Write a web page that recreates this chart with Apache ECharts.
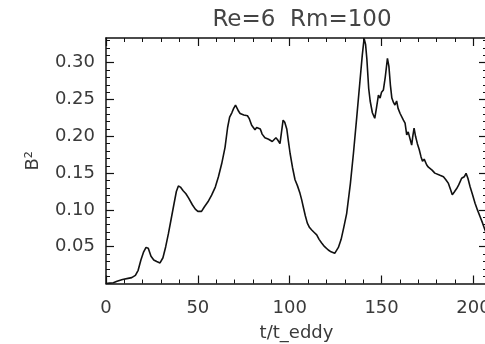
<!DOCTYPE html>
<html>
<head>
<meta charset="utf-8">
<script src="https://cdn.jsdelivr.net/npm/echarts@6/dist/echarts.min.js"></script>
<style>html,body{margin:0;padding:0;background:#fff;}#c{width:485px;height:344px;}</style>
</head>
<body>
<div id="c"></div>
<script>
var tValues = [0,2,4,6,9,12,14,16,17.5,19,20.5,21.8,23,24.5,26,27.6,29.4,31,32.5,34,35.5,37,38.3,39.4,40.5,42,43.5,45,47,48.6,50,51,52,53.5,55.5,57.5,59.5,61.2,63,64.8,66.2,67.3,68.5,69.5,70.5,71.3,72.2,73,74,75,76,77,78,79.3,80.2,81.1,82,83,84,85,86.5,87.5,88.5,89.5,90.5,91.5,92.5,93.5,94.7,95.5,96.4,97.3,98.4,99.3,100.2,101.5,102.9,104.2,105.6,106.5,107.4,108.5,109.6,110.8,112,113.5,114.7,116,117.4,119,121,122.5,124.5,125.5,126.5,128,129.5,131,133,134.7,136.5,138.3,139.5,140.5,141.3,142,143,143.8,145,146.3,147.2,148.3,149.2,150,151,152,153.2,154,154.8,155.6,156.5,157.3,158.2,159,160.1,161,161.9,162.8,163.7,164.5,165.5,166.4,167,167.7,168.5,169.5,170.5,171.5,172.3,173.2,174.6,175.5,176.4,177.5,179,180,181.8,183.7,185,186.4,187.5,188.5,189.5,190.9,192,193.6,195,196,197,198.2,199.5,200.9,202.2,203.6,205,206.3,207.5];
var bValues = [0,0.0005,0.001,0.003,0.0055,0.007,0.008,0.011,0.018,0.032,0.043,0.049,0.048,0.037,0.032,0.030,0.028,0.035,0.05,0.068,0.088,0.108,0.125,0.1325,0.131,0.126,0.122,0.116,0.107,0.101,0.098,0.096,0.098,0.104,0.111,0.120,0.131,0.145,0.163,0.185,0.212,0.226,0.232,0.238,0.2425,0.241,0.234,0.231,0.233,0.229,0.230,0.228,0.224,0.215,0.212,0.209,0.212,0.213,0.210,0.203,0.198,0.199,0.196,0.195,0.193,0.195,0.198,0.195,0.190,0.205,0.222,0.219,0.210,0.193,0.177,0.158,0.141,0.133,0.1225,0.114,0.104,0.092,0.082,0.076,0.0727,0.069,0.066,0.060,0.055,0.050,0.0455,0.043,0.041,0.043,0.049,0.060,0.077,0.095,0.135,0.177,0.226,0.2765,0.310,0.333,0.325,0.305,0.265,0.248,0.232,0.2245,0.238,0.256,0.252,0.260,0.263,0.280,0.306,0.295,0.270,0.252,0.246,0.2425,0.248,0.238,0.231,0.229,0.222,0.218,0.202,0.206,0.2085,0.188,0.200,0.211,0.200,0.190,0.182,0.172,0.166,0.169,0.161,0.158,0.1565,0.154,0.150,0.149,0.147,0.145,0.141,0.136,0.128,0.1205,0.124,0.129,0.134,0.143,0.145,0.1497,0.143,0.1315,0.121,0.109,0.100,0.091,0.082,0.0727,0.065];
var xTicks = [0, 50, 100, 150, 200];
var xMinorTicks = [10,20,30,40,60,70,80,90,110,120,130,140,160,170,180,190];
var yTicks = [0.05, 0.10, 0.15, 0.20, 0.25, 0.30];
var yMinorTicks = [0.01,0.02,0.03,0.04,0.06,0.07,0.08,0.09,0.11,0.12,0.13,0.14,0.16,0.17,0.18,0.19,0.21,0.22,0.23,0.24,0.26,0.27,0.28,0.29,0.31,0.32,0.33];
var titleText = 'Re=6  Rm=100';
var xName = 't/t_eddy';
var yName = 'B\u00B2';
var X_MAX = 207.4, Y_MAX = 0.3336;

var data = tValues.map(function (t, i) { return [t, bValues[i]]; });
var FONT = 'DejaVu Sans';
var TXT = '#3a3a3a';
var TICK = { color: '#111', width: 1.2 };
function base(isX, pos, showLine) {
  return {
    type: 'value', position: pos, min: 0, max: isX ? X_MAX : Y_MAX,
    axisLine: { show: showLine, onZero: false, lineStyle: { color: '#111', width: 1.5 } },
    splitLine: { show: false }, minorTick: { show: false },
    axisLabel: { show: false }
  };
}
function major(isX, pos, labels) {
  var a = base(isX, pos, true);
  a.axisTick = { show: true, inside: true, length: 8, lineStyle: TICK, customValues: isX ? xTicks : yTicks };
  if (labels) {
    a.axisLabel = { show: true, customValues: isX ? xTicks : yTicks, color: TXT, fontFamily: FONT, fontSize: 18,
      margin: isX ? 16 : 11, formatter: isX ? function (v) { return String(v); } : function (v) { return v.toFixed(2); } };
    a.name = isX ? xName : yName;
    a.nameLocation = 'middle';
    a.nameGap = isX ? 41 : 64;
    a.nameTextStyle = { color: TXT, fontFamily: FONT, fontSize: 18 };
    if (!isX) a.nameRotate = 90;
  }
  return a;
}
function minor(isX, pos) {
  var a = base(isX, pos, false);
  a.axisTick = { show: true, inside: true, length: 4, lineStyle: { color: '#111', width: 1 }, customValues: isX ? xMinorTicks : yMinorTicks };
  return a;
}
var chart = echarts.init(document.getElementById('c'), null, { renderer: 'canvas' });
chart.setOption({
  animation: false,
  backgroundColor: '#fff',
  title: { text: titleText, left: 302, top: 9, textAlign: 'center', padding: 0,
    textStyle: { color: '#444', fontFamily: FONT, fontSize: 23, fontWeight: 'normal' } },
  grid: { left: 106, top: 38, width: 381, height: 245.5, containLabel: false, outerBoundsMode: 'none' },
  xAxis: [major(true, 'bottom', true), major(true, 'top', false), minor(true, 'bottom'), minor(true, 'top')],
  yAxis: [major(false, 'left', true), major(false, 'right', false), minor(false, 'left'), minor(false, 'right')],
  series: [{
    type: 'line', data: data, xAxisIndex: 0, yAxisIndex: 0,
    showSymbol: false, symbol: 'none', smooth: false, clip: true,
    lineStyle: { color: '#111', width: 1.6 }
  }]
});
</script>
</body>
</html>
